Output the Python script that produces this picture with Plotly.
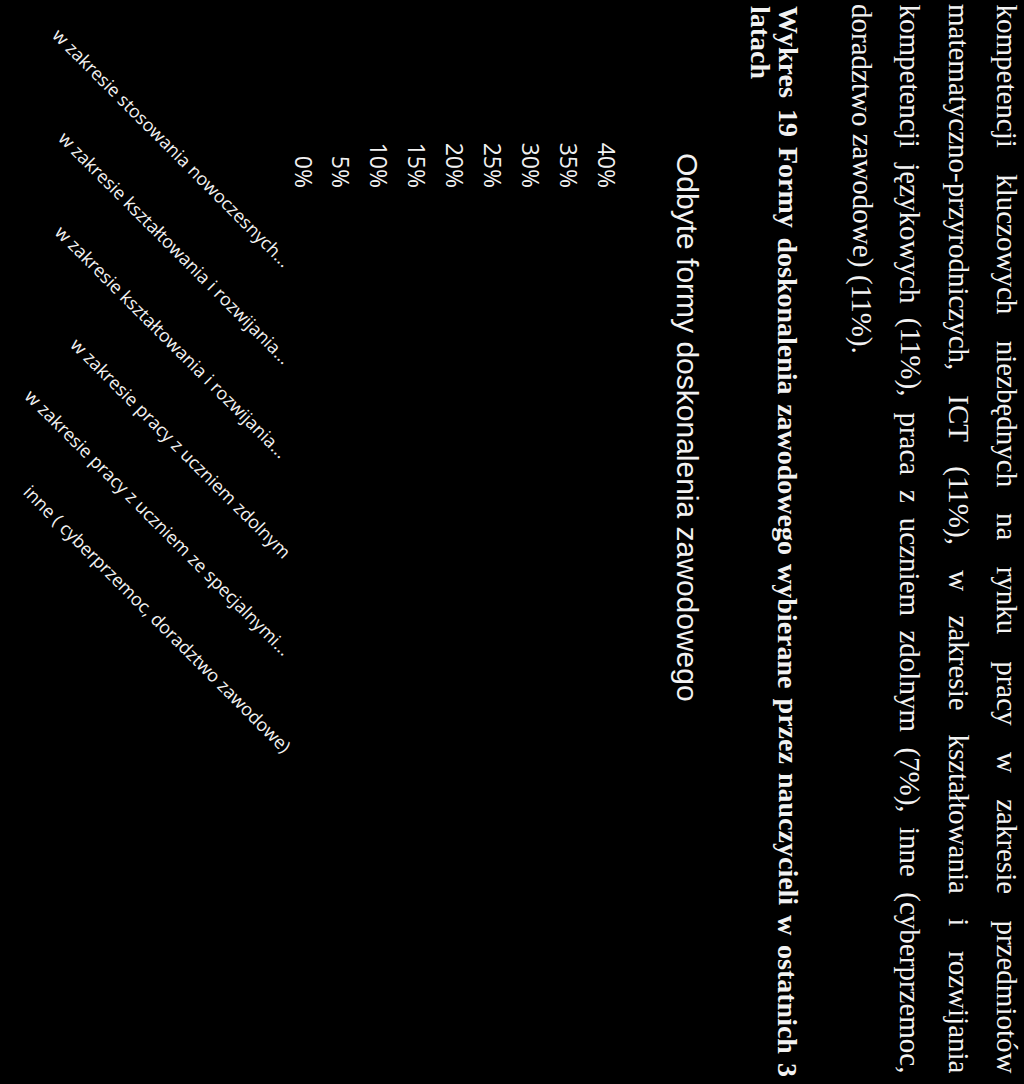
import plotly.graph_objects as go

W, H = 1024, 1084

# chart data (the bars are printed black on black in the scan)
categories = [
    "w zakresie stosowania nowoczesnych...",
    "w zakresie kształtowania i rozwijania...",
    "w zakresie kształtowania i rozwijania... ",
    "w zakresie pracy z uczniem zdolnym",
    "w zakresie pracy z uczniem ze specjalnymi...",
    "inne ( cyberprzemoc, doradztwo zawodowe)",
]
values = [0.37, 0.11, 0.11, 0.07, 0.23, 0.11]
tick_vals = [0, 0.05, 0.10, 0.15, 0.20, 0.25, 0.30, 0.35, 0.40]
tick_text = ["0%", "5%", "10%", "15%", "20%", "25%", "30%", "35%", "40%"]

chart_title = "Odbyte formy doskonalenia zawodowego"

body_lines = [
    "kompetencji kluczowych niezbędnych na rynku pracy w zakresie przedmiotów",
    "matematyczno-przyrodniczych, ICT (11%), w zakresie kształtowania i rozwijania",
    "kompetencji językowych (11%), praca z uczniem zdolnym (7%), inne (cyberprzemoc,",
    "doradztwo zawodowe) (11%).",
]
caption_lines = [
    "Wykres 19 Formy doskonalenia zawodowego wybierane przez nauczycieli w ostatnich 3",
    "latach",
]

# rough Times metrics, used to justify the scanned lines word by word
reg = dict(zip("abcdefghijklmnopqrstuvwxyz", [444, 500, 444, 500, 444, 333, 500, 500, 278, 278, 500, 278, 778,
                                               500, 500, 500, 500, 333, 389, 278, 500, 500, 722, 500, 500, 444]))
reg.update({"ę": 444, "ó": 500, "ł": 278, "ą": 444, "ż": 444, "%": 833, "(": 333, ")": 333, ",": 250,
            ".": 250, "-": 333, "C": 667, "I": 333, "T": 611, "W": 944, "F": 556})
bold = dict(zip("abcdefghijklmnopqrstuvwxyz", [500, 556, 444, 556, 444, 333, 500, 556, 278, 333, 556, 278, 833,
                                                556, 500, 556, 556, 444, 389, 333, 556, 500, 722, 500, 500, 444]))
bold.update({"W": 1000, "F": 611})


def word_width(word, size, table):
    return sum(table.get(ch, 500) for ch in word) / 1000 * size


def px(x):
    return x / W


def py(y):
    return 1 - y / H


annotations = []


def add_line(text, xc, y0, y1, size, table, is_bold=False, justify=True):
    words = text.split(" ")
    widths = [word_width(w, size, table) for w in words]
    if justify and len(words) > 1:
        gap = (y1 - y0 - sum(widths)) / (len(words) - 1)
    else:
        gap = 0.25 * size
    y = y0
    for w, wd in zip(words, widths):
        annotations.append(dict(
            text=f"<b>{w}</b>" if is_bold else w, x=px(xc), y=py(y),
            xref="paper", yref="paper", xanchor="center", yanchor="top",
            textangle=90, showarrow=False, borderpad=0,
            font=dict(family="Liberation Serif", size=size, color="#f2f2f2"),
        ))
        y += wd + gap


body_x = [1007, 959, 910, 862]
for i, line in enumerate(body_lines):
    add_line(line, body_x[i], 3, 1072, 29, reg, justify=(i < len(body_lines) - 1))

add_line(caption_lines[0], 788, 5, 1076, 28, bold, is_bold=True)
add_line(caption_lines[1], 760, 5, 1076, 28, bold, is_bold=True, justify=False)

annotations.append(dict(
    text=chart_title, x=px(688), y=py(427), xref="paper", yref="paper",
    xanchor="center", yanchor="middle", textangle=90, showarrow=False,
    font=dict(family="Liberation Sans", size=30, color="#f2f2f2"),
))

fig = go.Figure()
fig.add_bar(
    x=values, y=categories, orientation="h",
    marker=dict(color="black", line=dict(width=0)),
    width=0.6, showlegend=False,
)

fig.update_layout(
    width=W, height=H, autosize=False,
    margin=dict(l=0, r=0, t=0, b=0),
    paper_bgcolor="black", plot_bgcolor="black",
    annotations=annotations,
    xaxis=dict(
        domain=[px(302), px(605)], range=[0, 0.40], side="top",
        tickvals=tick_vals, ticktext=tick_text, tickangle=90,
        ticks="outside", ticklen=19, tickcolor="black",
        showgrid=False, zeroline=False, showline=False, automargin=False,
        tickfont=dict(family="Open Sans", size=23, color="#f2f2f2"),
    ),
    yaxis=dict(
        domain=[py(799), py(216)], autorange="reversed",
        tickangle=45, ticks="outside", ticklen=8, tickcolor="black",
        showgrid=False, zeroline=False, showline=False, automargin=False,
        tickfont=dict(family="Open Sans", size=18, color="#f2f2f2"),
    ),
)

fig.write_html(
    "out.html",
    config={"displayModeBar": False},
    post_script="document.body.style.margin='0';document.body.style.background='black';",
)
